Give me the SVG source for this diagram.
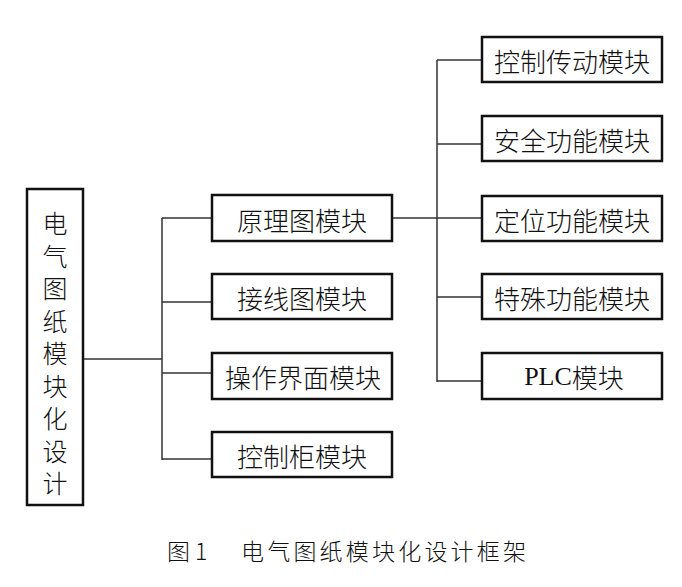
<svg xmlns="http://www.w3.org/2000/svg" width="682" height="587" viewBox="0 0 682 587">
<style>
.box{fill:#fff;stroke:#111;stroke-width:2.5}
.t{font-family:"Noto Sans CJK SC","Liberation Serif",serif;font-size:26px;font-weight:300;fill:#111;text-anchor:middle;dominant-baseline:central}
.p{font-family:"Liberation Serif","Noto Sans CJK SC",serif;font-weight:400}
.c{fill:none;stroke:#333;stroke-width:1.5}
.cap{font-family:"Noto Sans CJK SC",serif;font-size:23px;font-weight:300;fill:#111;dominant-baseline:central}
</style>
<rect width="682" height="587" fill="#fff"/>
<g id="connectors">
<path class="c" d="M83 359H162M162 218V460M162 218H212M162 302H212M162 373H212M162 459H212"/>
<path class="c" d="M392 218H482M437 60V382M437 60H482M437 144H482M437 297H482M437 381H482"/>
</g>
<g id="root">
<rect class="box" x="27" y="189" width="56" height="316"/>
<text class="t" style="font-size:25px">
<tspan x="55" y="222">电</tspan><tspan x="55" y="254.5">气</tspan><tspan x="55" y="287">图</tspan><tspan x="55" y="319.5">纸</tspan><tspan x="55" y="352">模</tspan><tspan x="55" y="384.5">块</tspan><tspan x="55" y="417">化</tspan><tspan x="55" y="449.5">设</tspan><tspan x="55" y="482">计</tspan>
</text>
</g>
<g id="n-yuanli"><rect class="box" x="212" y="195" width="180" height="46"/><text class="t" x="302" y="219">原理图模块</text></g>
<g id="n-jiexian"><rect class="box" x="212" y="274" width="180" height="45"/><text class="t" x="302" y="297">接线图模块</text></g>
<g id="n-caozuo"><rect class="box" x="212" y="353" width="180" height="46"/><text class="t" x="303" y="376">操作界面模块</text></g>
<g id="n-kongzhigui"><rect class="box" x="212" y="432" width="180" height="45"/><text class="t" x="302" y="455">控制柜模块</text></g>
<g id="n-chuandong"><rect class="box" x="482" y="37" width="180" height="45"/><text class="t" x="572" y="60">控制传动模块</text></g>
<g id="n-anquan"><rect class="box" x="482" y="116" width="180" height="45"/><text class="t" x="572" y="139">安全功能模块</text></g>
<g id="n-dingwei"><rect class="box" x="482" y="196" width="180" height="45"/><text class="t" x="572" y="219">定位功能模块</text></g>
<g id="n-teshu"><rect class="box" x="482" y="274" width="180" height="45"/><text class="t" x="572" y="297">特殊功能模块</text></g>
<g id="n-plc"><rect class="box" x="482" y="353" width="180" height="46"/><text class="t" x="574" y="376"><tspan class="p">PLC</tspan>模块</text></g>
<g id="caption">
<text class="cap" x="167" y="550">图 1</text>
<text class="cap" x="241" y="550" textLength="285" lengthAdjust="spacing">电气图纸模块化设计框架</text>
</g>
</svg>
